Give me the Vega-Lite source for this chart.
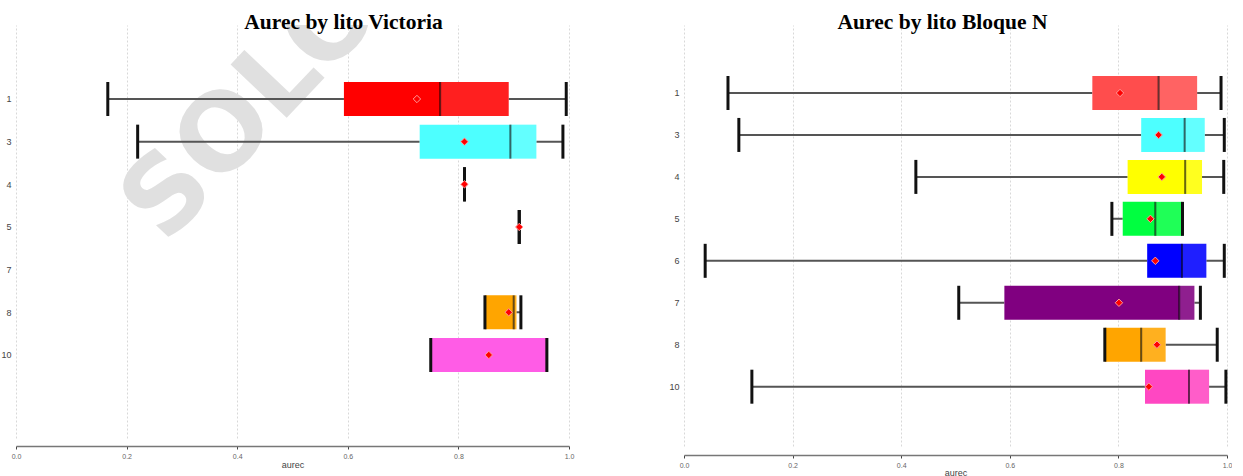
{
  "$schema": "https://vega.github.io/schema/vega-lite/v6.json",
  "background": "white",
  "padding": {"left": 0, "top": 11, "right": 0, "bottom": 0},
  "config": {
    "view": {"stroke": null},
    "concat": {"spacing": 94},
    "font": "Liberation Sans"
  },
  "resolve": {"scale": {"color": "independent", "x": "independent", "y": "independent"}},
  "datasets": {
    "victoria": [
      {"lito": "1", "lo": 0.166, "q1": 0.593, "med": 0.767, "q3": 0.891, "hi": 0.995, "mean": 0.725},
      {"lito": "3", "lo": 0.220, "q1": 0.730, "med": 0.894, "q3": 0.941, "hi": 0.989, "mean": 0.811},
      {"lito": "4", "lo": 0.811, "q1": 0.811, "med": 0.811, "q3": 0.811, "hi": 0.811, "mean": 0.811},
      {"lito": "5", "lo": 0.910, "q1": 0.910, "med": 0.910, "q3": 0.910, "hi": 0.910, "mean": 0.910},
      {"lito": "8", "lo": 0.848, "q1": 0.848, "med": 0.900, "q3": 0.905, "hi": 0.913, "mean": 0.891},
      {"lito": "10", "lo": 0.750, "q1": 0.750, "med": 0.960, "q3": 0.960, "hi": 0.960, "mean": 0.855}
    ],
    "bloque": [
      {"lito": "1", "lo": 0.081, "q1": 0.752, "med": 0.874, "q3": 0.945, "hi": 0.989, "mean": 0.803},
      {"lito": "3", "lo": 0.101, "q1": 0.842, "med": 0.922, "q3": 0.959, "hi": 0.995, "mean": 0.874},
      {"lito": "4", "lo": 0.427, "q1": 0.817, "med": 0.923, "q3": 0.954, "hi": 0.994, "mean": 0.880},
      {"lito": "5", "lo": 0.788, "q1": 0.808, "med": 0.868, "q3": 0.918, "hi": 0.918, "mean": 0.859},
      {"lito": "6", "lo": 0.039, "q1": 0.853, "med": 0.917, "q3": 0.962, "hi": 0.995, "mean": 0.868},
      {"lito": "7", "lo": 0.506, "q1": 0.590, "med": 0.912, "q3": 0.940, "hi": 0.951, "mean": 0.801},
      {"lito": "8", "lo": 0.775, "q1": 0.775, "med": 0.842, "q3": 0.887, "hi": 0.982, "mean": 0.871},
      {"lito": "10", "lo": 0.125, "q1": 0.849, "med": 0.930, "q3": 0.967, "hi": 0.998, "mean": 0.856}
    ],
    "mark": [
      {"label": "SOLO", "pos": 0.412, "lito": "1"}
    ]
  },
  "hconcat": [
    {
      "width": 553,
      "height": 413,
      "title": {"text": "Aurec by lito Victoria", "font": "Liberation Serif", "fontSize": 21.5, "fontWeight": "bold", "color": "#000000", "anchor": "middle", "frame": "group", "dx": 51, "offset": -8},
      "encoding": {
        "y": {
          "field": "lito", "type": "ordinal",
          "scale": {"type": "point", "domain": ["t", "1", "3", "4", "5", "7", "8", "10", "b"], "padding": 0.84, "align": 0.437},
          "axis": {"title": null, "domain": false, "ticks": false, "labelFontSize": 9, "labelColor": "#444444", "labelPadding": 5, "labelExpr": "datum.value == 't' || datum.value == 'b' ? '' : datum.label"}
        }
      },
      "layer": [
        {
          "data": {"name": "mark"},
          "mark": {"type": "text", "fontSize": 106, "fontWeight": "bold", "font": "DejaVu Sans", "color": "#e0e0e0", "angle": 313.5, "align": "center", "baseline": "middle", "dy": 12, "clip": true},
          "encoding": {
            "x": {"field": "pos", "type": "quantitative", "title": "aurec",
              "scale": {"domain": [0, 1], "nice": false, "zero": false},
              "axis": {"values": [0, 0.2, 0.4, 0.6, 0.8, 1], "format": ".1f", "labelFlush": false, "grid": true, "gridColor": "#d8d8d8", "gridDash": [2, 2], "domainColor": "#777777", "domainWidth": 1.5, "tickColor": "#444444", "tickSize": 3, "labelFontSize": 7, "labelColor": "#666666", "labelPadding": 3, "titleFontSize": 9, "titleColor": "#444444", "titleFontWeight": "normal", "titlePadding": 1, "offset": 8}},
            "text": {"field": "label"}
          }
        },
        {
          "data": {"name": "victoria"},
          "layer": [
            {
              "mark": {"type": "rule", "color": "#555555", "strokeWidth": 2},
              "encoding": {"x": {"field": "lo", "type": "quantitative", "title": "aurec"}, "x2": {"field": "hi"}}
            },
            {
              "mark": {"type": "bar", "size": 34, "color": "#ffffff"},
              "encoding": {"x": {"field": "q1", "type": "quantitative", "title": "aurec"}, "x2": {"field": "q3"}}
            },
            {
              "mark": {"type": "bar", "size": 34},
              "encoding": {
                "x": {"field": "q1", "type": "quantitative", "title": "aurec"}, "x2": {"field": "med"},
                "color": {"field": "lito", "type": "nominal", "legend": null,
                  "scale": {"domain": ["1", "3", "4", "5", "7", "8", "10"], "range": ["#ff0000", "#4dffff", "#ffff00", "#00ff40", "#800080", "#ffa500", "#ff5ce6"]}}
              }
            },
            {
              "mark": {"type": "bar", "size": 34, "opacity": 0.88},
              "encoding": {
                "x": {"field": "med", "type": "quantitative", "title": "aurec"}, "x2": {"field": "q3"},
                "color": {"field": "lito", "type": "nominal", "legend": null}
              }
            },
            {
              "mark": {"type": "tick", "orient": "vertical", "size": 34, "thickness": 2, "color": "#000000", "opacity": 0.6},
              "encoding": {"x": {"field": "med", "type": "quantitative", "title": "aurec"}}
            },
            {
              "mark": {"type": "tick", "orient": "vertical", "size": 34, "thickness": 3, "color": "#111111", "opacity": 1},
              "encoding": {"x": {"field": "lo", "type": "quantitative", "title": "aurec"}}
            },
            {
              "mark": {"type": "tick", "orient": "vertical", "size": 34, "thickness": 3, "color": "#111111", "opacity": 1},
              "encoding": {"x": {"field": "hi", "type": "quantitative", "title": "aurec"}}
            },
            {
              "mark": {"type": "point", "shape": "diamond", "filled": true, "size": 55, "fill": "#ff0000", "stroke": "#ff9c9c", "strokeWidth": 1, "opacity": 1},
              "encoding": {"x": {"field": "mean", "type": "quantitative", "title": "aurec"}}
            }
          ]
        }
      ]
    },
    {
      "width": 543,
      "height": 421,
      "title": {"text": "Aurec by lito Bloque N", "font": "Liberation Serif", "fontSize": 21.5, "fontWeight": "bold", "color": "#000000", "anchor": "middle", "frame": "group", "dx": -13, "offset": -8},
      "data": {"name": "bloque"},
      "encoding": {
        "y": {
          "field": "lito", "type": "ordinal",
          "scale": {"type": "point", "domain": ["t", "1", "3", "4", "5", "6", "7", "8", "10", "b"], "padding": 0.517, "align": 0.6},
          "axis": {"title": null, "domain": false, "ticks": false, "labelFontSize": 9, "labelColor": "#444444", "labelPadding": 5, "labelExpr": "datum.value == 't' || datum.value == 'b' ? '' : datum.label"}
        }
      },
      "layer": [
        {
          "mark": {"type": "rule", "color": "#555555", "strokeWidth": 2},
          "encoding": {
            "x": {"field": "lo", "type": "quantitative", "title": "aurec",
              "scale": {"domain": [0, 1], "nice": false, "zero": false},
              "axis": {"values": [0, 0.2, 0.4, 0.6, 0.8, 1], "format": ".1f", "labelFlush": false, "grid": true, "gridColor": "#d8d8d8", "gridDash": [2, 2], "domainColor": "#777777", "domainWidth": 1.5, "tickColor": "#444444", "tickSize": 3, "labelFontSize": 7, "labelColor": "#666666", "labelPadding": 3, "titleFontSize": 9, "titleColor": "#444444", "titleFontWeight": "normal", "titlePadding": 0, "offset": 9}},
            "x2": {"field": "hi"}
          }
        },
        {
          "mark": {"type": "bar", "size": 34, "color": "#ffffff"},
          "encoding": {"x": {"field": "q1", "type": "quantitative", "title": "aurec"}, "x2": {"field": "q3"}}
        },
        {
          "mark": {"type": "bar", "size": 34},
          "encoding": {
            "x": {"field": "q1", "type": "quantitative", "title": "aurec"}, "x2": {"field": "med"},
            "color": {"field": "lito", "type": "nominal", "legend": null,
              "scale": {"domain": ["1", "3", "4", "5", "6", "7", "8", "10"], "range": ["#ff4d4d", "#4dffff", "#ffff00", "#00ff40", "#0000ff", "#800080", "#ffa500", "#ff47c2"]}}
          }
        },
        {
          "mark": {"type": "bar", "size": 34, "opacity": 0.88},
          "encoding": {
            "x": {"field": "med", "type": "quantitative", "title": "aurec"}, "x2": {"field": "q3"},
            "color": {"field": "lito", "type": "nominal", "legend": null}
          }
        },
        {
          "mark": {"type": "tick", "orient": "vertical", "size": 34, "thickness": 2, "color": "#000000", "opacity": 0.6},
          "encoding": {"x": {"field": "med", "type": "quantitative", "title": "aurec"}}
        },
        {
          "mark": {"type": "tick", "orient": "vertical", "size": 34, "thickness": 3, "color": "#111111", "opacity": 1},
          "encoding": {"x": {"field": "lo", "type": "quantitative", "title": "aurec"}}
        },
        {
          "mark": {"type": "tick", "orient": "vertical", "size": 34, "thickness": 3, "color": "#111111", "opacity": 1},
          "encoding": {"x": {"field": "hi", "type": "quantitative", "title": "aurec"}}
        },
        {
          "mark": {"type": "point", "shape": "diamond", "filled": true, "size": 55, "fill": "#ff0000", "stroke": "#ff9c9c", "strokeWidth": 1, "opacity": 1},
          "encoding": {"x": {"field": "mean", "type": "quantitative", "title": "aurec"}}
        }
      ]
    }
  ]
}
